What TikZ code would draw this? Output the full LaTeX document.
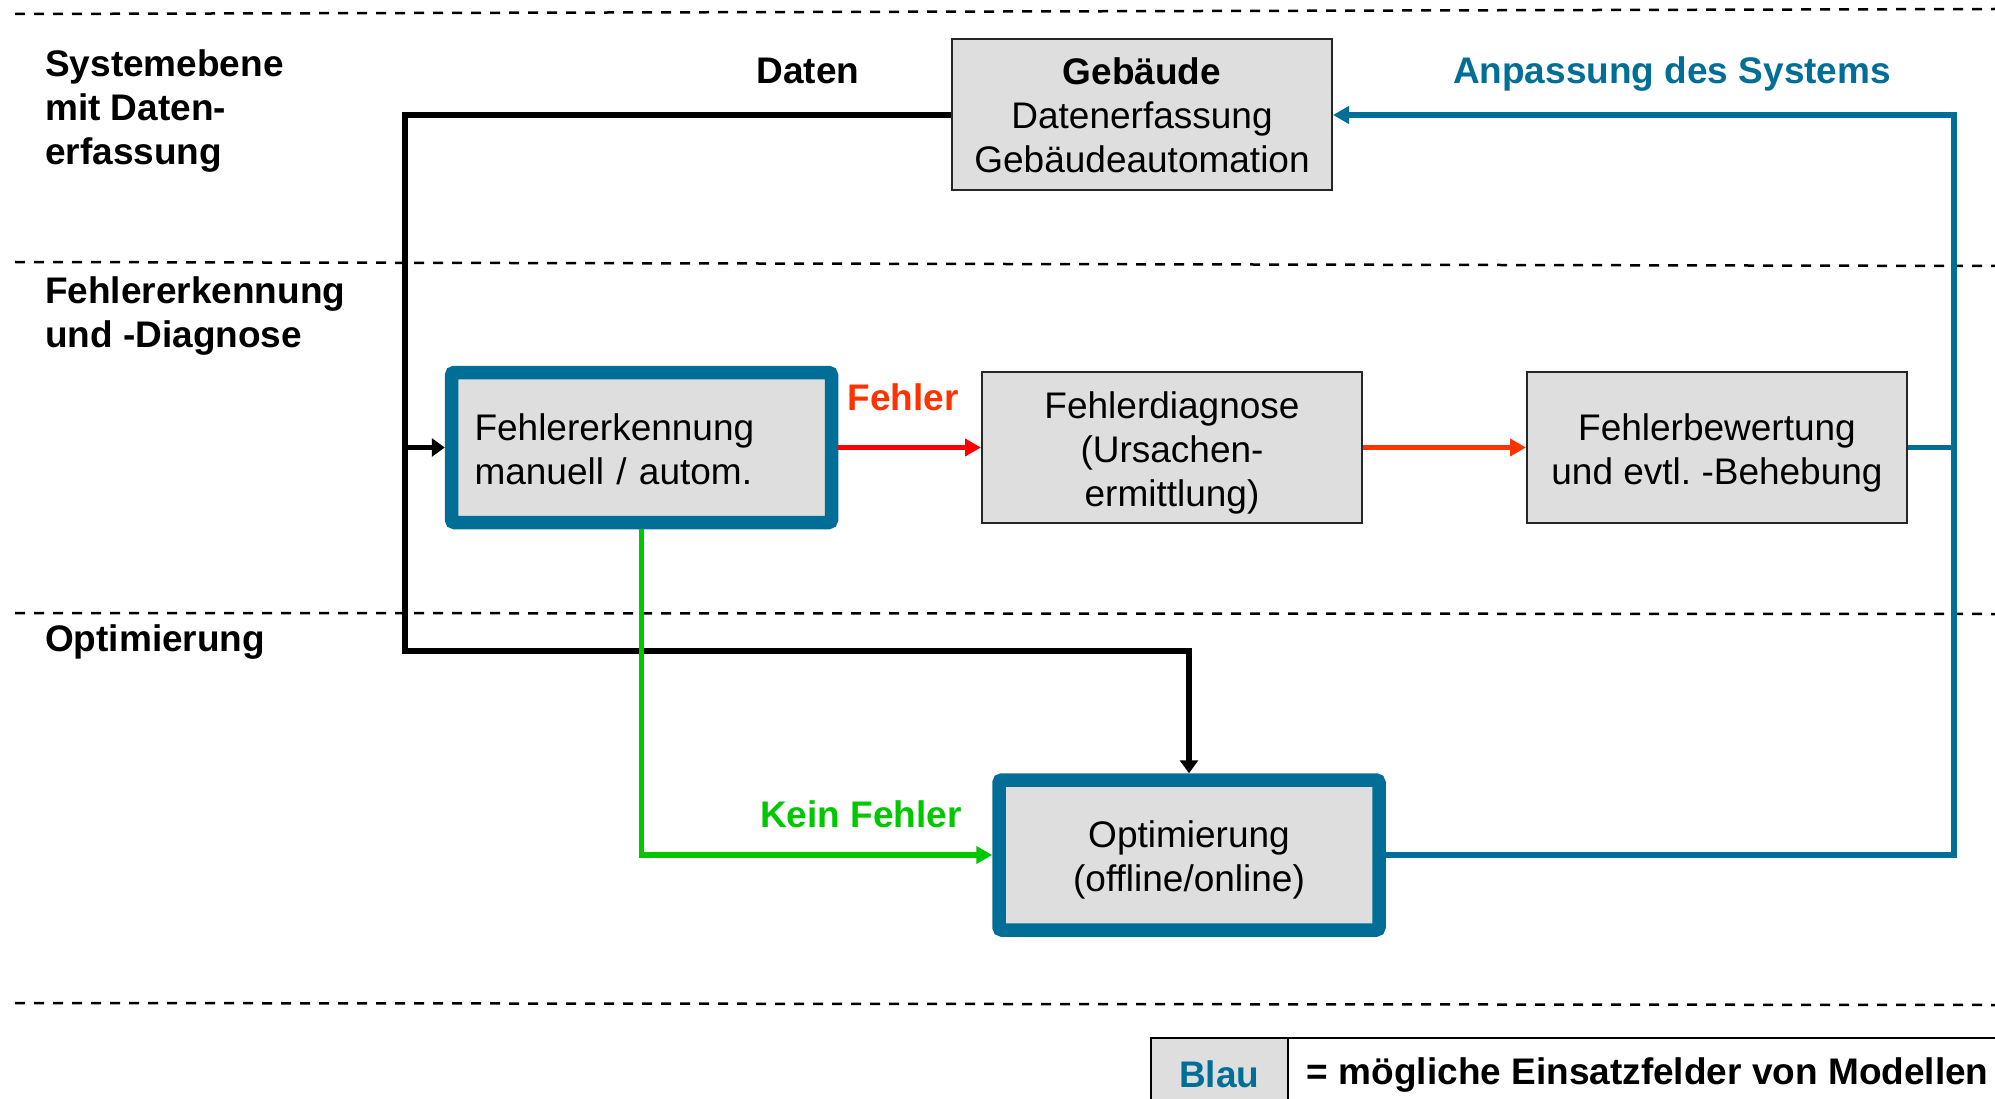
\documentclass[tikz,border=0pt]{standalone}
\usepackage{fontspec}
\setmainfont{Liberation Sans}
\usetikzlibrary{arrows.meta}
\definecolor{myblue}{RGB}{0,110,150}
\definecolor{boxgray}{RGB}{222,222,222}
\definecolor{myred}{RGB}{255,0,0}
\definecolor{myorange}{RGB}{255,51,0}
\definecolor{mygreen}{RGB}{0,200,0}
\frenchspacing
\newcommand{\tstrut}[1]{\rule{0pt}{#1}}
\begin{document}
\begin{tikzpicture}[x=1pt,y=-1pt,
  every node/.style={font=\fontsize{37}{44}\selectfont},
  plainbox/.style={draw=black!85, line width=2pt, fill=boxgray, minimum width=380pt, minimum height=151pt, align=center, inner sep=0pt},
  bluebox/.style={draw=myblue, line width=13.5pt, fill=boxgray, rounded corners=3pt, minimum width=380pt, minimum height=150pt, inner sep=0pt},
  lbl/.style={font=\fontsize{37}{44}\selectfont\bfseries, anchor=west, align=left, inner sep=0pt},
  boldlbl/.style={font=\fontsize{37}{44}\selectfont\bfseries, inner sep=0pt},
  sepline/.style={line width=2.5pt, dash pattern=on 10pt off 9pt},
  conn/.style={line width=5.5pt},
  bigarrow/.style={-{Triangle[length=16pt,width=17pt]}},
  smallarrow/.style={-{Triangle[length=13pt,width=18pt]}},
  legcell/.style={draw=black, line width=1.5pt, minimum height=74pt, anchor=north west, inner sep=0pt}
]
\useasboundingbox (0,0) rectangle (1995,1099);

% separator lines
\draw[sepline] (15,14) -- (1995,9);
\draw[sepline] (15,262) -- (1995,266);
\draw[sepline] (15,613) -- (1995,614);
\draw[sepline] (15,1003) -- (1995,1005);

% level labels
\node[lbl] (l1) at (45,111) {Systemebene\\mit Daten-\\erfassung};
\node[lbl] (l2) at (45,316) {Fehlererkennung\\und -Diagnose};
\node[lbl] (l3) at (45,642) {Optimierung};

% boxes
\node[plainbox] (geb) at (1142,115) {\textbf{Gebäude}\\Datenerfassung\\Gebäudeautomation};
\node[bluebox, text width=334pt, align=left, inner xsep=23pt] (fe) at (641.5,447.5) {\tstrut{31pt}Fehlererkennung\\manuell / autom.};
\node[plainbox] (fd) at (1172,447.5) {\tstrut{37pt}Fehlerdiagnose\\(Ursachen-\\ermittlung)};
\node[plainbox] (fb) at (1717,447.5) {\tstrut{37pt}Fehlerbewertung\\und evtl. -Behebung};
\node[bluebox, align=center] (opt) at (1189,855) {\tstrut{37pt}Optimierung\\(offline/online)};

% connector labels
\node[boldlbl] (daten) at (808,71) {Daten};
\node[boldlbl, text=myblue] (anp) at (1672,74) {Anpassung des Systems};
\node[boldlbl, text=myorange] (fehler) at (903,397) {Fehler};
\node[boldlbl, text=mygreen] (kein) at (861,814) {Kein Fehler};

% helper coordinates
\coordinate (jn) at (405,447.5);
\coordinate (bend) at (1189,651);
\coordinate (rt) at (1954,115);

% connectors
\draw[conn, smallarrow] (geb.west) -| (jn) -- (fe.west);
\draw[conn, smallarrow] (jn) |- (bend) -- (opt.north);
\draw[conn, myred, bigarrow] (fe.east) -- (fd.west);
\draw[conn, myorange, bigarrow] (fd.east) -- (fb.west);
\draw[conn, mygreen, bigarrow] (fe.south) |- (opt.west);
\draw[conn, myblue, bigarrow] (opt.east) -| (rt) -- (geb.east);
\draw[conn, myblue] (fb.east) -- (fb.east -| rt);

% legend
\node[legcell, fill=boxgray, minimum width=137pt, text=myblue, font=\fontsize{37}{44}\selectfont\bfseries] (blau) at (1150,1037) {Blau};
\node[legcell, minimum width=720pt, font=\fontsize{37}{44}\selectfont\bfseries] (modl) at (1287,1037) {= mögliche Einsatzfelder von Modellen};
\end{tikzpicture}
\end{document}
